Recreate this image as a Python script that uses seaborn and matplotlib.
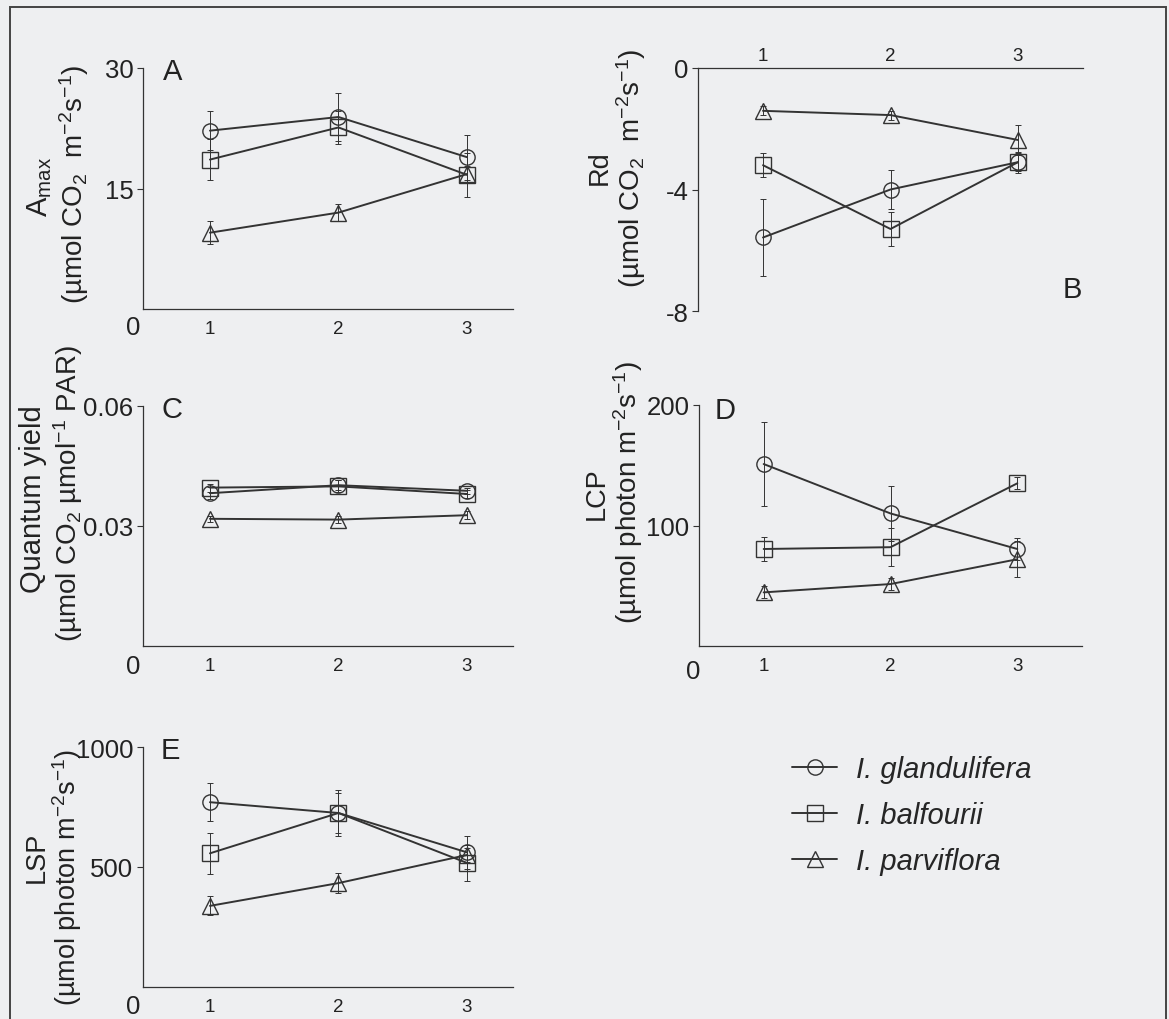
import numpy as np
import pandas as pd
import seaborn as sns
import matplotlib
matplotlib.use("Agg")
import matplotlib.pyplot as plt
from matplotlib.lines import Line2D
from matplotlib.patches import Rectangle

# ---------------- data ----------------
populations = [1, 2, 3]
species = ["I. glandulifera", "I. balfourii", "I. parviflora"]

amax_glan = [22.2, 23.9, 18.9]
amax_balf = [18.6, 22.6, 16.7]
amax_parv = [9.5, 12.0, 16.8]
amax_glan_se = [2.4, 3.0, 2.8]
amax_balf_se = [2.6, 2.0, 2.7]
amax_parv_se = [1.4, 1.1, 1.0]

rd_glan = [-5.58, -4.0, -3.1]
rd_balf = [-3.2, -5.3, -3.1]
rd_parv = [-1.41, -1.55, -2.37]
rd_glan_se = [1.28, 0.65, 0.3]
rd_balf_se = [0.4, 0.55, 0.35]
rd_parv_se = [0.15, 0.15, 0.5]

qy_glan = [0.0382, 0.0402, 0.0388]
qy_balf = [0.0396, 0.0399, 0.0380]
qy_parv = [0.0318, 0.0316, 0.0327]
qy_glan_se = [0.0015, 0.0012, 0.0008]
qy_balf_se = [0.0010, 0.0015, 0.0010]
qy_parv_se = [0.0008, 0.0008, 0.0010]

lcp_glan = [151, 110, 80.5]
lcp_balf = [80.5, 82, 135]
lcp_parv = [44.5, 51.4, 72]
lcp_glan_se = [35, 23, 9]
lcp_balf_se = [10, 16, 5]
lcp_parv_se = [5, 5, 15]

lsp_glan = [770, 725, 561]
lsp_balf = [557, 725, 517]
lsp_parv = [338, 433, 550]
lsp_glan_se = [80, 85, 70]
lsp_balf_se = [85, 95, 75]
lsp_parv_se = [40, 40, 30]

# ---------------- style ----------------
sns.set_theme(style="white")
plt.rcParams["font.family"] = ["Liberation Sans", "DejaVu Sans"]
plt.rcParams["mathtext.default"] = "regular"

BG = "#eeeff1"
INK = "#333333"
TXT = "#222222"
W, H = 1169, 1020

fig = plt.figure(figsize=(W / 100, H / 100), dpi=100, facecolor=BG)


def rect(l, t, r, b):
    return [l / W, 1 - b / H, (r - l) / W, (b - t) / H]


markers = {species[0]: "o", species[1]: "s", species[2]: "^"}
MS = 11


def make_df(vals, ses):
    rows = []
    for sp, v, e in zip(species, vals, ses):
        for p, vv, ee in zip(populations, v, e):
            rows.append({"pop": p, "val": vv, "se": ee, "species": sp})
    return pd.DataFrame(rows)


def panel(r, vals, ses, ylim, yticks, xlim, top_axis=False):
    ax = fig.add_axes(rect(*r))
    ax.set_facecolor("none")
    df = make_df(vals, ses)
    for sp in species:
        d = df[df.species == sp]
        ax.errorbar(d["pop"], d["val"], yerr=d["se"], fmt="none",
                    ecolor=INK, elinewidth=0.7, capsize=2, capthick=0.7, zorder=2)
    sns.lineplot(data=df, x="pop", y="val", style="species", markers=markers,
                 dashes=False, color=INK, linewidth=1.4, markersize=MS,
                 markerfacecolor="none", markeredgecolor=INK, markeredgewidth=1.0,
                 legend=False, ax=ax, zorder=3)
    ax.set_xlim(*xlim)
    ax.set_ylim(*ylim)
    ax.set_xticks(populations)
    ax.set_xticklabels([str(p) for p in populations], fontsize=13.5, color=TXT)
    ax.set_yticks(yticks)
    ax.set_yticklabels([f"{t:g}" for t in yticks], fontsize=18.5, color=TXT)
    ax.tick_params(axis="x", length=0, pad=8)
    ax.tick_params(axis="y", length=4, width=0.8, color=INK, pad=3, left=True)
    ax.set_xlabel("")
    ax.set_ylabel("")
    ax.spines["right"].set_visible(False)
    if top_axis:
        ax.spines["bottom"].set_visible(False)
        ax.xaxis.set_ticks_position("top")
        ax.tick_params(axis="x", top=True, bottom=False, labeltop=True,
                       labelbottom=False, length=0, pad=3)
    else:
        ax.spines["top"].set_visible(False)
    for s in ax.spines.values():
        s.set_color(INK)
        s.set_linewidth(0.9)
    return ax


xl_left = (0.479, 3.358)
xl_right = (0.49, 3.51)

axA = panel((143, 69, 513, 310), [amax_glan, amax_balf, amax_parv],
            [amax_glan_se, amax_balf_se, amax_parv_se], (0, 30), [15, 30], xl_left)
axB = panel((698, 69, 1083, 312), [rd_glan, rd_balf, rd_parv],
            [rd_glan_se, rd_balf_se, rd_parv_se], (-8, 0), [-8, -4, 0], xl_right,
            top_axis=True)
axC = panel((143, 407, 513, 647), [qy_glan, qy_balf, qy_parv],
            [qy_glan_se, qy_balf_se, qy_parv_se], (0, 0.06), [0.03, 0.06], xl_left)
axC.set_yticklabels(["0.03", "0.06"])
axD = panel((699, 406, 1082, 647), [lcp_glan, lcp_balf, lcp_parv],
            [lcp_glan_se, lcp_balf_se, lcp_parv_se], (0, 200), [100, 200], xl_right)
axE = panel((143, 748, 513, 988), [lsp_glan, lsp_balf, lsp_parv],
            [lsp_glan_se, lsp_balf_se, lsp_parv_se], (0, 1000), [500, 1000], xl_left)


def ftext(x, y, s, **kw):
    fig.text(x / W, 1 - y / H, s, **kw)


# origin "0" labels
for (x, y) in [(133, 328), (133, 667), (693, 672), (133, 1007)]:
    ftext(x, y, "0", fontsize=18.5, ha="center", va="center", color=TXT)

# panel letters
for (x, y, s) in [(173, 72, "A"), (1072, 290, "B"), (172, 410, "C"),
                  (725, 411, "D"), (170, 751, "E")]:
    ftext(x, y, s, fontsize=21, ha="center", va="center", color=TXT)

# y labels
lab_kw = dict(rotation=90, ha="center", va="center", color=TXT)
L1, L2 = 19.5, 20
ftext(40, 187, r"A$_{max}$", fontsize=21, **lab_kw)
ftext(74, 184, r"(µmol CO$_2$  m$^{-2}$s$^{-1}$)", fontsize=L2, **lab_kw)
ftext(600, 168, "Rd", fontsize=L1, **lab_kw)
ftext(631, 168, r"(µmol CO$_2$  m$^{-2}$s$^{-1}$)", fontsize=L2, **lab_kw)
ftext(33, 499, "Quantum yield", fontsize=21, **lab_kw)
ftext(68, 493, r"(µmol CO$_2$ µmol$^{-1}$ PAR)", fontsize=L2, **lab_kw)
ftext(597, 494, "LCP", fontsize=L1, **lab_kw)
ftext(628, 492, r"(µmol photon m$^{-2}$s$^{-1}$)", fontsize=L2, **lab_kw)
ftext(37, 857, "LSP", fontsize=L1, **lab_kw)
ftext(67, 877, r"(µmol photon m$^{-2}$s$^{-1}$)", fontsize=19.5, **lab_kw)

# legend
handles = [Line2D([], [], color=INK, lw=1.4, marker=markers[sp], markersize=MS,
                  markerfacecolor="none", markeredgecolor=INK, markeredgewidth=1.0)
           for sp in species]
fig.legend(handles, species, loc="center left",
           bbox_to_anchor=(792 / W, 1 - 816 / H), frameon=False,
           prop={"family": "Liberation Sans", "style": "italic", "size": 21},
           handlelength=1.55, handletextpad=0.65, labelspacing=0.62,
           borderaxespad=0, borderpad=0)

# outer frame
fig.patches.append(Rectangle((10 / W, -0.05), (1166 - 10) / W, 1.05 - 8 / H,
                             transform=fig.transFigure, fill=False,
                             edgecolor="#444444", linewidth=1.4))

fig.savefig("out.png", dpi=100, facecolor=BG)
